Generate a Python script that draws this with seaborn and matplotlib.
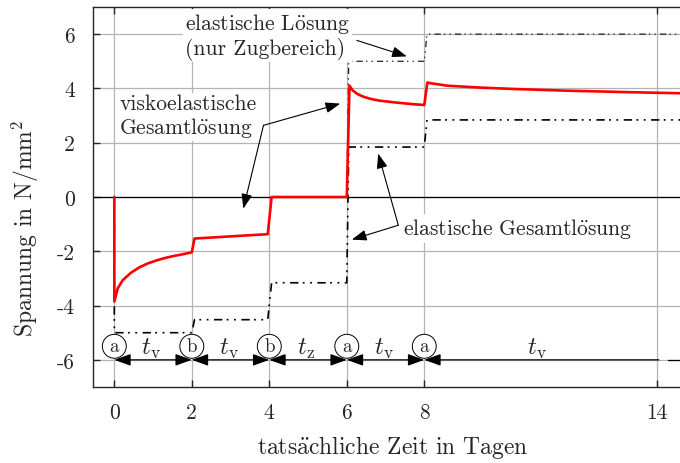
import matplotlib.pyplot as plt
import seaborn as sns

# viskoelastische Gesamtloesung (rot)
visko_t = [0, 0, 0.09, 0.22, 0.43, 0.65, 0.86, 1.08, 1.3, 1.51, 1.73, 2.0,
           2.07, 3.96, 4.06, 6.0, 6.07, 6.15, 6.27, 6.4, 6.6, 6.84, 7.27, 7.7, 8.0,
           8.08, 8.17, 8.6, 9.46, 10.3, 11.6, 13.35, 14.7]
visko_s = [0, -3.85, -3.36, -3.06, -2.79, -2.59, -2.45, -2.34, -2.25, -2.18, -2.12, -2.04,
           -1.53, -1.37, 0.0, 0.0, 4.1, 3.93, 3.8, 3.71, 3.62, 3.55, 3.48, 3.42, 3.39,
           4.22, 4.19, 4.10, 4.03, 3.98, 3.92, 3.86, 3.82]

# elastische Gesamtloesung
elast_t = [0, 0, 2.0, 2.07, 3.96, 4.06, 6.0, 6.05, 8.0, 8.07, 14.7]
elast_s = [0, -5.0, -5.0, -4.52, -4.52, -3.16, -3.16, 1.84, 1.84, 2.84, 2.84]

# elastische Loesung (nur Zugbereich)
zug_t = [6.0, 6.05, 8.0, 8.07, 14.7]
zug_s = [0, 5.0, 5.0, 6.0, 6.0]

# Lastwechsel und Phasen
marks_t = [0, 2, 4, 6, 8]
marks_lbl = ['a', 'b', 'b', 'a', 'a']
phase_mid = [0.95, 2.95, 4.95, 6.95, 10.9]
phase_lbl = [r'$t_\mathrm{v}$', r'$t_\mathrm{v}$', r'$t_\mathrm{z}$',
             r'$t_\mathrm{v}$', r'$t_\mathrm{v}$']
dim_end = 14.05

xticks = [0, 2, 4, 6, 8, 14]
yticks = [-6, -4, -2, 0, 2, 4, 6]

sns.set_style('ticks')
plt.rcParams['font.family'] = ['cmr10', 'DejaVu Serif']
plt.rcParams['mathtext.fontset'] = 'cm'
plt.rcParams['axes.unicode_minus'] = False

fs = 15.5
fs_lab = 17
dashdot = (0, (5, 2.6, 1.1, 3.3, 1.1, 3.3))

fig = plt.figure(figsize=(6.8, 4.64), dpi=100)
ax = fig.add_axes([93 / 680, 1 - 388 / 464, 587 / 680, 380 / 464])

sns.lineplot(x=zug_t, y=zug_s, ax=ax, sort=False, estimator=None,
             color='#222222', lw=0.9, linestyle=dashdot, zorder=2.4)
sns.lineplot(x=elast_t, y=elast_s, ax=ax, sort=False, estimator=None,
             color='black', lw=1.2, linestyle=dashdot, zorder=2.5)
sns.lineplot(x=visko_t, y=visko_s, ax=ax, sort=False, estimator=None,
             color='#ff0000', lw=1.9, zorder=3)

ax.set_xlim(-0.55, 14.6)
ax.set_ylim(-7, 7)
ax.set_xticks(xticks)
ax.set_xticklabels([str(v) for v in xticks])
ax.set_yticks(yticks)
ax.set_yticklabels([str(v) for v in yticks])
ax.grid(True, color='#b4b4b4', lw=0.9, zorder=0)
ax.set_axisbelow(True)
ax.axhline(0, color='black', lw=0.9, zorder=1.5)
ax.spines['right'].set_visible(False)
for s in ['left', 'top', 'bottom']:
    ax.spines[s].set_linewidth(1.0)
ax.tick_params(direction='in', length=5, width=1.0, top=True, right=False,
               labelsize=fs)
ax.tick_params(axis='x', pad=11)
ax.tick_params(axis='y', pad=13)

ax.set_ylabel(r'Spannung in N/mm$^2$', fontsize=fs_lab)
ax.yaxis.set_label_coords(-0.088, 0.42)
ax.set_xlabel(r'tats$\ddot{\mathrm{a}}$chliche Zeit in Tagen', fontsize=fs_lab)
ax.xaxis.set_label_coords(0.511, -0.122)

# Bemassung unten
arr = dict(color='black', lw=0.9, shrinkA=0, shrinkB=0)
for i, t0 in enumerate(marks_t):
    t1 = marks_t[i + 1] if i + 1 < len(marks_t) else dim_end
    style = '<|-|>' if i + 1 < len(marks_t) else '<|-'
    ax.annotate('', xy=(t1, -6), xytext=(t0, -6),
                arrowprops=dict(arrowstyle=style + ',head_length=1.0,head_width=0.36', **arr))
ax.plot([14.3, 14.6], [-6, -6], color='black', lw=0.9)
for t0, lbl in zip(marks_t, marks_lbl):
    ax.text(t0, -5.5, lbl, ha='center', va='center', fontsize=13.5, zorder=4,
            bbox=dict(boxstyle='circle,pad=0.16', fc='white', ec='black', lw=0.7))
for tm, lbl in zip(phase_mid, phase_lbl):
    ax.text(tm, -5.55, lbl, ha='center', va='center', fontsize=18)

box = dict(facecolor='white', edgecolor='none', pad=1.5)
head = '-|>,head_length=0.9,head_width=0.33'

ax.text(1.82, 5.95, 'elastische L$\\ddot{\\mathrm{o}}$sung\n(nur Zugbereich)',
        ha='left', va='center', fontsize=fs, linespacing=1.1, bbox=box, zorder=4)
ax.annotate('', xy=(7.55, 5.18), xytext=(6.26, 5.77),
            arrowprops=dict(arrowstyle=head, color='black', lw=0.8, shrinkA=0, shrinkB=0))

ax.text(0.13, 2.99, 'viskoelastische\nGesamtl$\\ddot{\\mathrm{o}}$sung',
        ha='left', va='center', fontsize=fs, linespacing=1.1, bbox=box, zorder=4)
for tip in [(5.83, 3.44), (3.33, -0.43)]:
    ax.annotate('', xy=tip, xytext=(3.85, 2.64),
                arrowprops=dict(arrowstyle=head, color='black', lw=0.8, shrinkA=0, shrinkB=0))

ax.text(7.46, -1.16, 'elastische Gesamtl$\\ddot{\\mathrm{o}}$sung',
        ha='left', va='center', fontsize=fs, bbox=box, zorder=4)
for tip in [(6.81, 1.6), (6.13, -1.57)]:
    ax.annotate('', xy=tip, xytext=(7.33, -1.04),
                arrowprops=dict(arrowstyle=head, color='black', lw=0.8, shrinkA=0, shrinkB=0))

fig.savefig('out.png', dpi=100)
